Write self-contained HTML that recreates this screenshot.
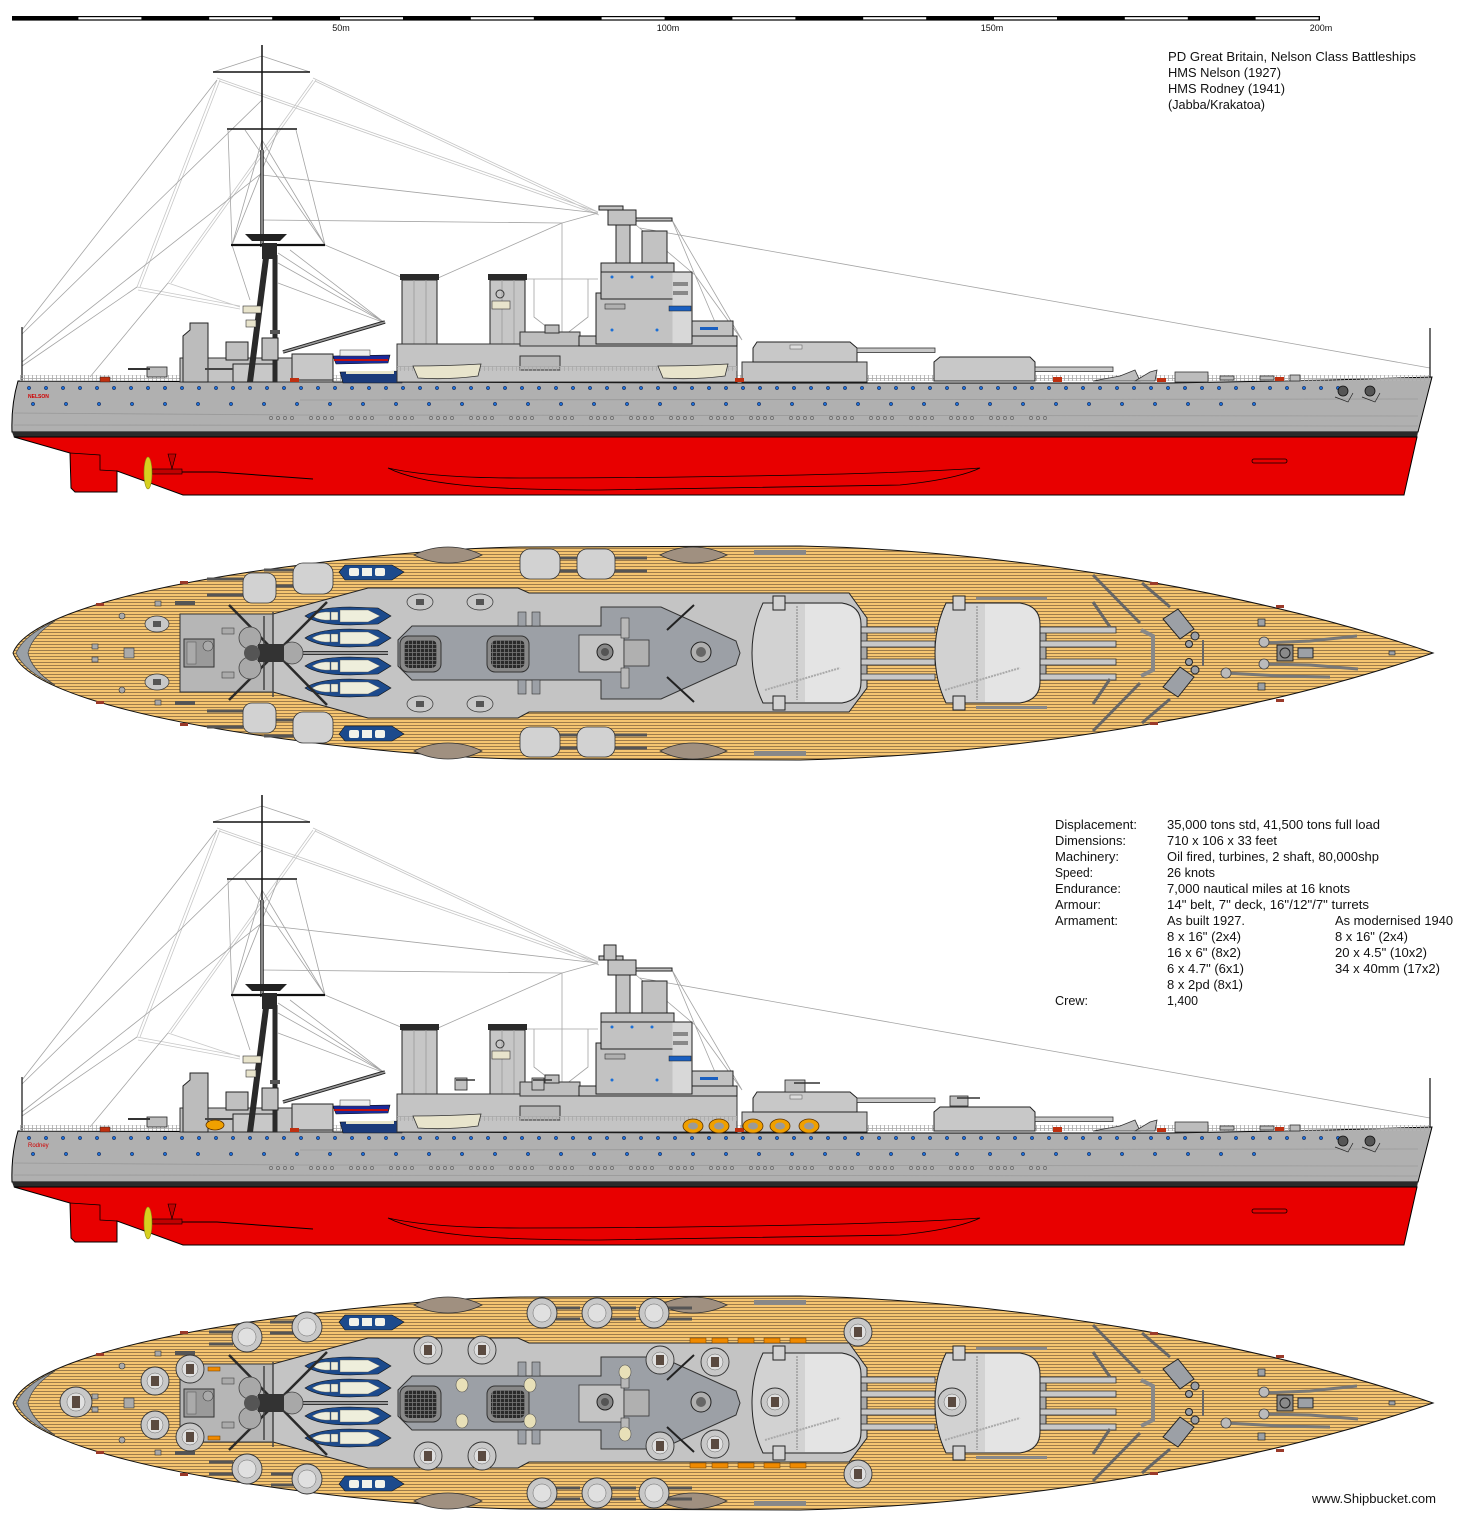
<!DOCTYPE html>
<html><head><meta charset="utf-8"><style>
html,body{margin:0;padding:0;background:#fff;}
svg{display:block;}
text{font-family:"Liberation Sans",Arial,sans-serif;fill:#111;}
</style></head><body>
<svg width="1470" height="1525" viewBox="0 0 1470 1525" xmlns="http://www.w3.org/2000/svg">
<defs>
 <pattern id="deck" width="6" height="3" patternUnits="userSpaceOnUse"><rect width="6" height="3" fill="#f5c571"/><rect y="2" width="6" height="1" fill="#9e7c4a"/></pattern>
 <pattern id="rail" width="4" height="6" patternUnits="userSpaceOnUse"><rect width="4" height="0.8" fill="#a9a9a9"/><rect y="2.6" width="4" height="0.7" fill="#b8b8b8"/><rect width="0.8" height="6" fill="#a9a9a9"/></pattern>
 <pattern id="pb1" x="26" y="385" width="17" height="6" patternUnits="userSpaceOnUse"><circle cx="3" cy="3" r="1.7" fill="#1b6fd6" stroke="#113" stroke-width="0.5"/></pattern>
 <pattern id="pb2" x="30" y="401" width="33" height="6" patternUnits="userSpaceOnUse"><circle cx="3" cy="3" r="1.7" fill="#1b6fd6" stroke="#113" stroke-width="0.5"/></pattern>
 <pattern id="pb3" x="268" y="415" width="40" height="6" patternUnits="userSpaceOnUse"><g fill="none" stroke="#666" stroke-width="0.7"><circle cx="3" cy="3" r="1.6"/><circle cx="10" cy="3" r="1.6"/><circle cx="17" cy="3" r="1.6"/><circle cx="24" cy="3" r="1.6"/></g></pattern>
 <pattern id="grid" width="4" height="4" patternUnits="userSpaceOnUse"><rect width="4" height="4" fill="#2a2a2a"/><rect width="4" height="0.8" fill="#777"/><rect width="0.8" height="4" fill="#777"/></pattern>

 <!-- ================= PROFILE (common) ================= -->
 <g id="prof">
  <g stroke="#a4a4a4" stroke-width="0.8" fill="none">
   <path d="M262,56 L213,72 M262,56 L310,72"/>
   <path d="M217,78 L598,212 M219,81 L599,215 M313,78 L598,212 M315,81 L599,215" stroke="#c4c4c4"/>
   <path d="M217,80 L137,287 M220,80 L140,287 M313,80 L168,283 M316,80 L171,283" stroke="#c8c8c8"/>
   <path d="M137,287 L240,306 M138,290 L240,309 M168,283 L240,307" stroke="#c8c8c8"/>
   <path d="M22,330 L217,80 M22,334 L262,100 M22,362 L262,173 M22,366 L137,287 M90,377 L168,283"/>
   <path d="M228,130 L232,245 M245,130 L325,245 M278,130 L232,245 M296,130 L325,245 M262,140 L232,245 M262,140 L325,245"/>
   <path d="M262,175 L598,213 M262,220 L562,223 M325,245 L403,278 M232,245 L250,300"/>
   <path d="M438,278 L562,223 M562,223 L562,338 M562,223 L598,213"/>
   <path d="M524,279 L598,279 M534,279 L534,317 L561,338 L588,317 L588,279"/>
   <path d="M278,253 L385,323 M278,263 L385,323 M278,283 L385,323 M290,250 L385,323"/>
   <path d="M640,228 L1430,368"/>
   <path d="M672,220 L742,340 M672,220 L695,275 L742,340 M695,275 L715,322 M636,225 L695,275"/>
  </g>
  <path d="M22,327 V381 M1430,328 V378" stroke="#111" stroke-width="1.2"/>
  <path d="M18,381 L700,383 L1170,383 L1330,380 L1432,377 L1418,432 L12,432 Q11,405 18,381Z" fill="#b0b0b0" stroke="#000" stroke-width="1"/>
  <path d="M14,413 L300,415 M14,425 L1418,426 M300,400 L1418,399 M300,415 L1418,416" stroke="#999" stroke-width="0.8"/>
  <path d="M12,432 L1418,432 L1417,437.5 L14,437.5Z" fill="#2a2a2a"/>
  <path d="M14,437 L1417,437 L1404,495 L183,495 L117,471 L117,492 L75,492 L71,488 L70,453 Z" fill="#e80000" stroke="#000" stroke-width="1"/>
  <path d="M70,453 L100,455 L100,470 L117,471" fill="none" stroke="#000" stroke-width="0.8"/>
  <path d="M388,468 C420,484 480,490 600,490 L900,485 C950,480 972,472 980,468 C900,474 700,478 520,478 C450,478 410,473 388,468Z" fill="none" stroke="#000" stroke-width="0.8"/>
  <rect x="1252" y="459" width="35" height="4" rx="2" fill="none" stroke="#000" stroke-width="0.8"/>
  <path d="M150,472 L217,472 M217,472 L313,479" stroke="#000" stroke-width="1"/>
  <rect x="152" y="469" width="30" height="5" fill="#c00000" stroke="#000" stroke-width="0.6"/>
  <path d="M168,454 L176,454 L172,469Z" fill="#c00000" stroke="#000" stroke-width="0.6"/>
  <ellipse cx="148" cy="473" rx="4" ry="16" fill="#d8d020" stroke="#8a8a10" stroke-width="0.6"/>
  <rect x="26" y="385" width="1320" height="6" fill="url(#pb1)"/>
  <rect x="30" y="401" width="1240" height="6" fill="url(#pb2)"/>
  <rect x="268" y="415" width="780" height="6" fill="url(#pb3)"/>
  <g fill="#555" stroke="#111" stroke-width="0.8"><circle cx="1343" cy="391" r="5"/><circle cx="1370" cy="391" r="5"/></g>
  <g fill="none" stroke="#222" stroke-width="0.7"><path d="M1335,397 L1348,402 L1353,393 M1362,397 L1375,402 L1380,393"/></g>
  <rect x="20" y="375" width="1410" height="6" fill="url(#rail)"/>
  <rect x="100" y="377" width="10" height="5" fill="#c03010" stroke="#222" stroke-width="0.5"/>
  <rect x="147" y="367" width="20" height="10" fill="#bdbdbd" stroke="#222" stroke-width="0.8"/>
  <path d="M128,369 L150,369" stroke="#333" stroke-width="2"/>
  <rect x="180" y="358" width="153" height="24" fill="#c4c4c4" stroke="#333"/>
  <path d="M183,382 L183,336 L190,330 L190,323 L208,323 L208,382Z" fill="#bcbcbc" stroke="#222"/>
  <rect x="226" y="342" width="22" height="18" fill="#c0c0c0" stroke="#222"/>
  <rect x="233" y="364" width="44" height="18" fill="#c8c8c8" stroke="#222"/>
  <path d="M205,369 L233,369" stroke="#444" stroke-width="2"/>
  <rect x="292" y="354" width="41" height="26" fill="#c8c8c8" stroke="#222"/>
  <path d="M262,45 V150" stroke="#111" stroke-width="1.5"/>
  <path d="M262,150 V247" stroke="#222" stroke-width="3.5"/>
  <path d="M262,150 V247" stroke="#aaa" stroke-width="1.5"/>
  <path d="M213,72 H310 M227,129 H297" stroke="#111" stroke-width="1.6"/>
  <path d="M231,245 H325" stroke="#111" stroke-width="2.2"/>
  <path d="M245,234 L287,234 L280,241 L252,241Z" fill="#222"/>
  <rect x="262" y="243" width="15" height="16" fill="#2a2a2a"/>
  <path d="M266,258 L250,382" stroke="#2a2a2a" stroke-width="6"/>
  <path d="M275,255 V382" stroke="#2a2a2a" stroke-width="5"/>
  <rect x="270" y="330" width="10" height="4" fill="#555"/>
  <path d="M283,352 L385,322" stroke="#222" stroke-width="3.5"/>
  <path d="M283,352 L385,322" stroke="#999" stroke-width="1.6"/>
  <rect x="243" y="306" width="18" height="7" fill="#e8e4cc" stroke="#333" stroke-width="0.6"/>
  <rect x="246" y="320" width="10" height="7" fill="#e8e4cc" stroke="#333" stroke-width="0.6"/>
  <rect x="262" y="338" width="16" height="22" fill="#c0c0c0" stroke="#222"/>
  <path d="M333,356 L390,355 L388,363 L336,364Z" fill="#1a2a9a" stroke="#111" stroke-width="0.6"/>
  <rect x="334" y="359" width="54" height="2" fill="#c01010"/>
  <rect x="340" y="350" width="30" height="6" fill="#eee" stroke="#333" stroke-width="0.5"/>
  <path d="M340,372 L405,371 L402,383 L343,383Z" fill="#1a3a7a" stroke="#111" stroke-width="0.6"/>
  <rect x="346" y="371" width="48" height="3" fill="#e8e4cc"/>
  <g stroke="#222" stroke-width="1">
   <rect x="402" y="280" width="35" height="66" fill="#c6c6c6"/>
   <rect x="490" y="280" width="35" height="66" fill="#c6c6c6"/>
  </g>
  <path d="M414,280 V346 M426,280 V346 M502,280 V346 M514,280 V346" stroke="#999" stroke-width="0.8"/>
  <rect x="400" y="274" width="39" height="6" fill="#2a2a2a"/>
  <rect x="488" y="274" width="39" height="6" fill="#2a2a2a"/>
  <rect x="492" y="301" width="18" height="8" fill="#e8e4cc" stroke="#333" stroke-width="0.6"/>
  <circle cx="500" cy="294" r="4" fill="none" stroke="#333"/>
  <rect x="397" y="344" width="340" height="38" fill="#c4c4c4" stroke="#333"/>
  <rect x="520" y="332" width="60" height="14" fill="#bebebe" stroke="#333"/>
  <rect x="545" y="325" width="14" height="8" fill="#bebebe" stroke="#333"/>
  <rect x="520" y="356" width="40" height="14" fill="#b8b8b8" stroke="#333"/>
  <rect x="397" y="366" width="340" height="5" fill="url(#rail)"/>
  <path d="M413,366 Q447,366 481,364 L478,376 Q447,380 418,378Z" fill="#e8e4cc" stroke="#333" stroke-width="0.8"/>
  <g fill="#c2c2c2" stroke="#222" stroke-width="1">
   <rect x="579" y="336" width="158" height="10"/>
   <rect x="692" y="321" width="41" height="15"/>
   <rect x="596" y="293" width="96" height="51"/>
   <rect x="601" y="272" width="91" height="27"/>
   <rect x="601" y="263" width="73" height="9"/>
   <rect x="616" y="225" width="14" height="38"/>
   <rect x="642" y="231" width="25" height="32"/>
   <rect x="608" y="210" width="28" height="15"/>
   <rect x="599" y="206" width="24" height="4"/>
   <rect x="636" y="218" width="36" height="3"/>
  </g>
  <rect x="672.5" y="272.5" width="19" height="71" fill="#d8d8d8"/>
  <rect x="669" y="306" width="22" height="5" fill="#1a5fc0" stroke="#222" stroke-width="0.5"/>
  <rect x="700" y="327" width="18" height="3" fill="#1a5fc0"/>
  <rect x="673" y="282" width="15" height="4" fill="#888"/>
  <rect x="673" y="291" width="15" height="4" fill="#888"/>
  <rect x="605" y="304" width="20" height="5" fill="#b0b0b0" stroke="#333" stroke-width="0.6"/>
  <g fill="#1b6fd6"><circle cx="612" cy="277" r="1.5"/><circle cx="632" cy="277" r="1.5"/><circle cx="652" cy="277" r="1.5"/><circle cx="612" cy="330" r="1.5"/><circle cx="657" cy="330" r="1.5"/></g>
  <rect x="742" y="362" width="125" height="20" fill="#c4c4c4" stroke="#333"/>
  <path d="M753,362 L753,348 L757,342 L850,342 L857,348 L857,362Z" fill="#c8c8c8" stroke="#222"/>
  <rect x="857" y="348" width="78" height="4.5" fill="#c8c8c8" stroke="#333" stroke-width="0.8"/>
  <rect x="790" y="345" width="12" height="4" fill="#ddd" stroke="#555" stroke-width="0.5"/>
  <path d="M934,381 L934,362 L940,357 L1030,357 L1035,362 L1035,381Z" fill="#c8c8c8" stroke="#222"/>
  <rect x="1035" y="367" width="78" height="4.5" fill="#c8c8c8" stroke="#333" stroke-width="0.8"/>
  <g fill="#bcbcbc" stroke="#333" stroke-width="0.8">
   <path d="M1093,381 L1120,376 L1135,370 L1140,381Z"/>
   <path d="M1135,381 L1150,372 L1157,370 L1155,381Z"/>
   <rect x="1175" y="372" width="33" height="10"/>
   <rect x="1220" y="376" width="14" height="4"/>
   <rect x="1260" y="376" width="14" height="4"/>
   <rect x="1290" y="375" width="10" height="6"/>
  </g>
  <g fill="#c03010"><rect x="1053" y="377" width="9" height="5"/><rect x="1157" y="378" width="9" height="4"/><rect x="1275" y="377" width="9" height="4"/><rect x="290" y="378" width="9" height="4"/><rect x="735" y="378" width="9" height="4"/></g>
 </g>

 <!-- ================= PLAN (common) ================= -->
 <g id="plan">
  <path d="M13,653 C25,620 120,592 250,572 C350,557 450,548 520,547 L800,546 C1000,550 1250,590 1433,653 C1250,716 1000,756 800,760 L520,759 C450,758 350,749 250,734 C120,714 25,686 13,653Z" fill="url(#deck)" stroke="#111" stroke-width="1"/>
  <path d="M16,653 C22,640 35,630 55,621 C38,632 30,643 28,653 C30,663 38,674 55,685 C35,676 22,666 16,653Z" fill="#9aa0a6" stroke="#444" stroke-width="0.7"/>
  <g fill="#a09080" stroke="#333" stroke-width="0.8">
   <path d="M414,555 Q430,547 448,547 Q466,547 482,555 Q466,563 448,563 Q430,563 414,555Z"/>
   <path d="M660,555 Q676,547 693,547 Q710,547 727,555 Q710,563 693,563 Q676,563 660,555Z"/>
   <path d="M414,751 Q430,743 448,743 Q466,743 482,751 Q466,759 448,759 Q430,759 414,751Z"/>
   <path d="M660,751 Q676,743 693,743 Q710,743 727,751 Q710,759 693,759 Q676,759 660,751Z"/>
  </g>
  <g fill="#888"><rect x="754" y="550" width="52" height="5"/><rect x="754" y="751" width="52" height="5"/><rect x="976" y="597" width="71" height="3"/><rect x="976" y="706" width="71" height="3"/></g>
  <g fill="#1c4a8c" stroke="#111" stroke-width="0.6">
   <path d="M339,572 L345,565 L392,565 L404,572 L392,580 L345,580Z"/>
   <path d="M339,734 L345,726 L392,726 L404,734 L392,741 L345,741Z"/>
  </g>
  <g fill="#f2f2ea"><rect x="349" y="568" width="10" height="8" rx="2"/><rect x="362" y="568" width="10" height="8"/><rect x="375" y="568" width="10" height="8" rx="2"/><rect x="349" y="730" width="10" height="8" rx="2"/><rect x="362" y="730" width="10" height="8"/><rect x="375" y="730" width="10" height="8" rx="2"/></g>
  <path d="M180,614 L273,614 L368,588 L518,588 L529,593 L849,593 L867,618 L867,688 L849,712 L529,712 L518,718 L368,718 L273,692 L180,692Z" fill="#c4c4c4" stroke="#222" stroke-width="1"/>
  <rect x="180" y="614" width="93" height="78" fill="#b6b6b6" stroke="#333"/>
  <rect x="184" y="639" width="30" height="28" fill="#9a9a9a" stroke="#333"/>
  <rect x="187" y="642" width="9" height="22" fill="#aaa" stroke="#555" stroke-width="0.5"/>
  <circle cx="208" cy="646" r="5" fill="#aaa" stroke="#444" stroke-width="0.6"/>
  <rect x="222" y="628" width="12" height="6" fill="#aaa" stroke="#444" stroke-width="0.6"/>
  <rect x="222" y="672" width="12" height="6" fill="#aaa" stroke="#444" stroke-width="0.6"/>
  <path d="M398,640 L412,626 L601,626 L601,607 L661,607 L736,641 L740,653 L736,665 L661,699 L601,699 L601,680 L412,680 L398,666Z" fill="#9ca0a6" stroke="#333" stroke-width="1"/>
  <rect x="518" y="612" width="8" height="14" fill="#9ca0a6" stroke="#333" stroke-width="0.6"/>
  <rect x="532" y="612" width="8" height="14" fill="#9ca0a6" stroke="#333" stroke-width="0.6"/>
  <rect x="518" y="680" width="8" height="14" fill="#9ca0a6" stroke="#333" stroke-width="0.6"/>
  <rect x="532" y="680" width="8" height="14" fill="#9ca0a6" stroke="#333" stroke-width="0.6"/>
  <rect x="579" y="635" width="45" height="37" fill="#c4c4c4" stroke="#333" stroke-width="0.8"/>
  <rect x="624" y="640" width="25" height="26" fill="#b0b0b0" stroke="#333" stroke-width="0.8"/>
  <circle cx="605" cy="652" r="8" fill="#888" stroke="#222"/>
  <circle cx="605" cy="652" r="4" fill="#555"/>
  <circle cx="701" cy="652" r="10" fill="#b0b0b0" stroke="#222"/>
  <circle cx="701" cy="652" r="5" fill="#666"/>
  <rect x="621" y="618" width="8" height="20" fill="#b8b8b8" stroke="#333" stroke-width="0.6"/>
  <rect x="621" y="668" width="8" height="20" fill="#b8b8b8" stroke="#333" stroke-width="0.6"/>
  <path d="M667,630 L694,605 M667,677 L694,702" stroke="#222" stroke-width="2"/>
  <rect x="400" y="636" width="41" height="36" rx="8" fill="#888" stroke="#333"/>
  <rect x="404" y="640" width="33" height="28" rx="6" fill="url(#grid)"/>
  <rect x="487" y="636" width="42" height="36" rx="8" fill="#888" stroke="#333"/>
  <rect x="491" y="640" width="34" height="28" rx="6" fill="url(#grid)"/>
  <g fill="#1c4a8c" stroke="#111" stroke-width="0.6">
   <path d="M305,616 Q318,607 350,607 L378,608 L391,616 L378,624 L350,625 Q318,625 305,616Z"/>
   <path d="M305,638 Q318,629 350,629 L378,630 L391,638 L378,646 L350,647 Q318,647 305,638Z"/>
   <path d="M305,666 Q318,657 350,657 L378,658 L391,666 L378,674 L350,675 Q318,675 305,666Z"/>
   <path d="M305,688 Q318,679 350,679 L378,680 L391,688 L378,696 L350,697 Q318,697 305,688Z"/>
  </g>
  <g fill="#eeeedc" stroke="#555" stroke-width="0.4">
   <path d="M312,616 Q320,611 330,612 L330,620 Q320,621 312,616Z"/><rect x="331" y="612" width="7" height="8"/><path d="M340,610 L368,610 L380,616 L368,622 L340,622Z"/>
   <path d="M312,638 Q320,633 330,634 L330,642 Q320,643 312,638Z"/><rect x="331" y="634" width="7" height="8"/><path d="M340,632 L368,632 L380,638 L368,644 L340,644Z"/>
   <path d="M312,666 Q320,661 330,662 L330,670 Q320,671 312,666Z"/><rect x="331" y="662" width="7" height="8"/><path d="M340,660 L368,660 L380,666 L368,672 L340,672Z"/>
   <path d="M312,688 Q320,683 330,684 L330,692 Q320,693 312,688Z"/><rect x="331" y="684" width="7" height="8"/><path d="M340,682 L368,682 L380,688 L368,694 L340,694Z"/>
  </g>
  <path d="M271,653 L388,653" stroke="#333" stroke-width="4"/>
  <path d="M271,653 L388,653" stroke="#999" stroke-width="2"/>
  <path d="M229,605 L327,705 M229,700 L327,602" stroke="#2a2a2a" stroke-width="2.5"/>
  <path d="M264,616 V690 M273,612 V697" stroke="#444" stroke-width="1.5"/>
  <circle cx="250" cy="638" r="11" fill="#a8a8a8" stroke="#444" stroke-width="0.8"/>
  <circle cx="250" cy="668" r="11" fill="#a8a8a8" stroke="#444" stroke-width="0.8"/>
  <circle cx="292" cy="653" r="11" fill="#a8a8a8" stroke="#444" stroke-width="0.8"/>
  <rect x="258" y="644" width="26" height="18" fill="#333"/>
  <circle cx="252" cy="653" r="8" fill="#555"/>
  <g fill="#aaa" stroke="#333" stroke-width="0.6"><rect x="124" y="648" width="10" height="10"/><rect x="92" y="644" width="6" height="5"/><rect x="92" y="657" width="6" height="5"/><circle cx="122" cy="616" r="3"/><circle cx="122" cy="690" r="3"/><rect x="155" y="601" width="6" height="5"/><rect x="155" y="700" width="6" height="5"/></g>
  <g fill="#555"><rect x="175" y="601" width="20" height="4"/><rect x="175" y="701" width="20" height="4"/></g>
  <g>
   <path d="M851,627 L867,627 L867,680 L851,680Z" fill="#aaa" stroke="#333"/>
   <g fill="#c8c8c8" stroke="#333" stroke-width="0.8">
    <rect x="855" y="627" width="80" height="6"/><rect x="855" y="641" width="80" height="6"/><rect x="855" y="659" width="80" height="6"/><rect x="855" y="674" width="80" height="6"/>
   </g>
   <path d="M763,603 L842,603 Q861,606 861,624 L861,682 Q861,700 842,703 L763,703 Q752,680 752,653 Q752,626 763,603Z" fill="#d2d2d2" stroke="#222"/>
   <path d="M805,604 L842,604 Q860,607 860,624 L860,682 Q860,699 842,702 L805,702Z" fill="#e4e4e4"/>
   <path d="M765,690 L840,668" stroke="#aaa" stroke-width="2" stroke-dasharray="2 1"/>
   <path d="M797,606 V700" stroke="#aaa" stroke-width="2" stroke-dasharray="2 1"/>
   <rect x="773" y="596" width="12" height="14" fill="#d2d2d2" stroke="#222"/>
   <rect x="773" y="696" width="12" height="14" fill="#d2d2d2" stroke="#222"/>
  </g>
  <g>
   <path d="M1030,627 L1046,627 L1046,680 L1030,680Z" fill="#aaa" stroke="#333"/>
   <g fill="#c8c8c8" stroke="#333" stroke-width="0.8">
    <rect x="1034" y="627" width="82" height="6"/><rect x="1034" y="641" width="82" height="6"/><rect x="1034" y="659" width="82" height="6"/><rect x="1034" y="674" width="82" height="6"/>
   </g>
   <path d="M946,603 L1020,603 Q1040,606 1040,624 L1040,682 Q1040,700 1020,703 L946,703 Q935,680 935,653 Q935,626 946,603Z" fill="#d2d2d2" stroke="#222"/>
   <path d="M985,604 L1020,604 Q1039,607 1039,624 L1039,682 Q1039,699 1020,702 L985,702Z" fill="#e4e4e4"/>
   <path d="M945,690 L1020,668" stroke="#aaa" stroke-width="2" stroke-dasharray="2 1"/>
   <path d="M977,606 V700" stroke="#aaa" stroke-width="2" stroke-dasharray="2 1"/>
   <rect x="953" y="596" width="12" height="14" fill="#d2d2d2" stroke="#222"/>
   <rect x="953" y="696" width="12" height="14" fill="#d2d2d2" stroke="#222"/>
  </g>
  <g stroke="#666" stroke-width="3" fill="none">
   <path d="M1093,575 L1140,623 M1093,731 L1140,683 M1093,602 L1110,627 M1093,704 L1110,679 M1142,583 L1170,607 M1142,723 L1170,699"/>
  </g>
  <path d="M1141,630 L1153,636 L1153,670 L1141,676" stroke="#888" stroke-width="4" fill="none"/>
  <g fill="#9ca0a6" stroke="#222" stroke-width="1">
   <path d="M1163,619 L1178,609 L1194,629 L1180,639Z"/>
   <path d="M1163,687 L1178,697 L1194,677 L1180,667Z"/>
   <circle cx="1195" cy="636" r="4"/><circle cx="1189" cy="644" r="3.5"/><circle cx="1195" cy="670" r="4"/><circle cx="1189" cy="662" r="3.5"/>
  </g>
  <path d="M1203,640 L1203,666" stroke="#666" stroke-width="2"/>
  <g stroke="#777" stroke-width="3" fill="none">
   <path d="M1263,643 L1310,641 L1357,636 M1263,664 L1310,665 L1358,669 M1226,673 L1280,676 L1330,677"/>
  </g>
  <g fill="#bbb" stroke="#444" stroke-width="0.8"><circle cx="1264" cy="642" r="5"/><circle cx="1264" cy="664" r="5"/><circle cx="1226" cy="673" r="5"/></g>
  <rect x="1277" y="645" width="16" height="16" fill="#8a8a8a" stroke="#222"/>
  <circle cx="1285" cy="653" r="5" fill="none" stroke="#222"/>
  <rect x="1298" y="648" width="15" height="10" fill="#9ca0a6" stroke="#222"/>
  <rect x="1258" y="619" width="7" height="7" fill="#9ca0a6" stroke="#222" stroke-width="0.7"/>
  <rect x="1258" y="683" width="7" height="7" fill="#9ca0a6" stroke="#222" stroke-width="0.7"/>
  <rect x="1389" y="651" width="6" height="4" fill="#9ca0a6" stroke="#222" stroke-width="0.6"/>
  <g fill="#9a3a2a"><rect x="1150" y="582" width="8" height="3"/><rect x="1276" y="605" width="8" height="3"/><rect x="1150" y="722" width="8" height="3"/><rect x="1276" y="699" width="8" height="3"/><rect x="96" y="603" width="8" height="3"/><rect x="96" y="701" width="8" height="3"/><rect x="180" y="581" width="8" height="3"/><rect x="180" y="723" width="8" height="3"/></g>
 </g>
</defs>

<!-- scale bar -->
<rect x="12" y="16" width="1308" height="4.6" fill="#000"/>
<g fill="#fff">
 <rect x="78.4" y="17.2" width="63" height="2.2"/><rect x="209.2" y="17.2" width="63" height="2.2"/><rect x="340" y="17.2" width="63" height="2.2"/><rect x="470.8" y="17.2" width="63" height="2.2"/><rect x="601.6" y="17.2" width="63" height="2.2"/><rect x="732.4" y="17.2" width="63" height="2.2"/><rect x="863.2" y="17.2" width="63" height="2.2"/><rect x="994" y="17.2" width="63" height="2.2"/><rect x="1124.8" y="17.2" width="63" height="2.2"/><rect x="1255.6" y="17.2" width="63" height="2.2"/>
</g>
<g font-size="9" text-anchor="middle"><text x="341" y="31">50m</text><text x="668" y="31">100m</text><text x="992" y="31">150m</text><text x="1321" y="31">200m</text></g>

<!-- title -->
<g font-size="12.5" lengthAdjust="spacingAndGlyphs">
 <text x="1168" y="61" textLength="248" lengthAdjust="spacingAndGlyphs">PD Great Britain, Nelson Class Battleships</text>
 <text x="1168" y="77" textLength="113" lengthAdjust="spacingAndGlyphs">HMS Nelson (1927)</text>
 <text x="1168" y="93" textLength="117" lengthAdjust="spacingAndGlyphs">HMS Rodney (1941)</text>
 <text x="1168" y="109" textLength="97" lengthAdjust="spacingAndGlyphs">(Jabba/Krakatoa)</text>
</g>

<!-- profile 1 -->
<use href="#prof"/>
<text x="28" y="398" font-size="5" style="fill:#d00000" font-weight="bold">NELSON</text>
<path d="M658,366 Q693,366 728,364 L725,376 Q693,380 663,378Z" fill="#e8e4cc" stroke="#333" stroke-width="0.8"/>

<!-- plan 1 -->
<use href="#plan"/>
<g fill="#d2d2d2" stroke="#333" stroke-width="0.8">
 <path d="M207,579 H243 M207,595 H243 M264,570 H293 M264,586 H293 M560,558 H580 M560,571 H580 M611,558 H647 M611,571 H647" stroke="#555" stroke-width="3" fill="none"/>
 <path d="M207,727 H243 M207,711 H243 M264,736 H293 M264,720 H293 M560,748 H580 M560,735 H580 M611,748 H647 M611,735 H647" stroke="#555" stroke-width="3" fill="none"/>
 <rect x="243" y="573" width="33" height="30" rx="9"/><rect x="293" y="563" width="40" height="31" rx="10"/>
 <rect x="520" y="549" width="40" height="30" rx="10"/><rect x="577" y="549" width="38" height="30" rx="10"/>
 <rect x="243" y="703" width="33" height="30" rx="9"/><rect x="293" y="712" width="40" height="31" rx="10"/>
 <rect x="520" y="727" width="40" height="30" rx="10"/><rect x="577" y="727" width="38" height="30" rx="10"/>
</g>
<g fill="#c8c8c8" stroke="#333" stroke-width="0.7">
 <ellipse cx="420" cy="602" rx="13" ry="8"/><ellipse cx="480" cy="602" rx="13" ry="8"/><ellipse cx="420" cy="704" rx="13" ry="8"/><ellipse cx="480" cy="704" rx="13" ry="8"/>
 <ellipse cx="157" cy="624" rx="12" ry="8"/><ellipse cx="157" cy="682" rx="12" ry="8"/>
</g>
<g fill="#555"><rect x="416" y="599" width="8" height="6"/><rect x="476" y="599" width="8" height="6"/><rect x="416" y="701" width="8" height="6"/><rect x="476" y="701" width="8" height="6"/><rect x="153" y="621" width="8" height="6"/><rect x="153" y="679" width="8" height="6"/></g>

<!-- profile 2 -->
<use href="#prof" y="750"/>
<text x="28" y="1147" font-size="6" style="fill:#d00000">Rodney</text>
<rect x="604" y="945" width="12" height="15" fill="#c2c2c2" stroke="#222"/>
<g fill="#f0a000" stroke="#5a3000" stroke-width="0.8">
 <ellipse cx="215" cy="1125" rx="9" ry="5"/>
 <ellipse cx="693" cy="1126" rx="10" ry="7"/><ellipse cx="719" cy="1126" rx="10" ry="7"/><ellipse cx="753" cy="1126" rx="10" ry="7"/><ellipse cx="780" cy="1126" rx="10" ry="7"/><ellipse cx="809" cy="1126" rx="10" ry="7"/>
</g>
<g fill="#9a9a9a"><ellipse cx="693" cy="1126" rx="5" ry="3.5"/><ellipse cx="719" cy="1126" rx="5" ry="3.5"/><ellipse cx="753" cy="1126" rx="5" ry="3.5"/><ellipse cx="780" cy="1126" rx="5" ry="3.5"/><ellipse cx="809" cy="1126" rx="5" ry="3.5"/></g>
<g fill="#c0c0c0" stroke="#222" stroke-width="0.8">
 <rect x="455" y="1078" width="12" height="12"/><rect x="532" y="1078" width="12" height="12"/>
 <rect x="785" y="1080" width="20" height="12"/><rect x="950" y="1096" width="18" height="10"/>
</g>
<path d="M794,1083 H820 M957,1098 H980 M456,1080 H475 M533,1080 H552" stroke="#333" stroke-width="1.5"/>

<!-- plan 2 -->
<use href="#plan" y="750"/>
<g fill="#f08a00" stroke="#6a3a00" stroke-width="0.5">
 <rect x="690" y="1338" width="16" height="5"/><rect x="712" y="1338" width="16" height="5"/><rect x="738" y="1338" width="16" height="5"/><rect x="764" y="1338" width="16" height="5"/><rect x="790" y="1338" width="16" height="5"/>
 <rect x="690" y="1463" width="16" height="5"/><rect x="712" y="1463" width="16" height="5"/><rect x="738" y="1463" width="16" height="5"/><rect x="764" y="1463" width="16" height="5"/><rect x="790" y="1463" width="16" height="5"/>
 <rect x="208" y="1367" width="12" height="4"/><rect x="208" y="1436" width="12" height="4"/>
</g>
<g stroke="#555" stroke-width="3" fill="none">
 <path d="M209,1332 H233 M209,1344 H233 M270,1322 H293 M270,1333 H293 M271,1474 H293 M271,1485 H293 M209,1462 H233 M209,1474 H233"/>
 <path d="M556,1308 H580 M556,1319 H580 M611,1308 H636 M611,1319 H636 M668,1308 H692 M668,1319 H692 M556,1488 H580 M556,1499 H580 M611,1488 H636 M611,1499 H636 M668,1488 H692 M668,1499 H692"/>
</g>
<g fill="#c8c8c8" stroke="#333" stroke-width="0.9">
 <ellipse cx="76" cy="1402" rx="16" ry="15"/>
 <ellipse cx="155" cy="1381" rx="14" ry="14"/><ellipse cx="155" cy="1425" rx="14" ry="14"/>
 <ellipse cx="190" cy="1369" rx="14" ry="14"/><ellipse cx="190" cy="1437" rx="14" ry="14"/>
 <ellipse cx="247" cy="1337" rx="15" ry="15"/><ellipse cx="247" cy="1469" rx="15" ry="15"/>
 <ellipse cx="307" cy="1327" rx="15" ry="15"/><ellipse cx="307" cy="1479" rx="15" ry="15"/>
 <ellipse cx="428" cy="1350" rx="14" ry="14"/><ellipse cx="428" cy="1456" rx="14" ry="14"/>
 <ellipse cx="482" cy="1350" rx="14" ry="14"/><ellipse cx="482" cy="1456" rx="14" ry="14"/>
 <ellipse cx="542" cy="1313" rx="15" ry="15"/><ellipse cx="542" cy="1493" rx="15" ry="15"/>
 <ellipse cx="597" cy="1313" rx="15" ry="15"/><ellipse cx="597" cy="1493" rx="15" ry="15"/>
 <ellipse cx="654" cy="1313" rx="15" ry="15"/><ellipse cx="654" cy="1493" rx="15" ry="15"/>
 <ellipse cx="660" cy="1360" rx="14" ry="14"/><ellipse cx="660" cy="1446" rx="14" ry="14"/>
 <ellipse cx="715" cy="1362" rx="14" ry="14"/><ellipse cx="715" cy="1444" rx="14" ry="14"/>
 <ellipse cx="858" cy="1332" rx="14" ry="14"/><ellipse cx="858" cy="1474" rx="14" ry="14"/>
 <ellipse cx="775" cy="1402" rx="14" ry="14"/><ellipse cx="952" cy="1402" rx="14" ry="14"/>
</g>
<g fill="#e0e0e0" stroke="#666" stroke-width="0.5">
 <circle cx="76" cy="1402" r="9"/><circle cx="155" cy="1381" r="8"/><circle cx="155" cy="1425" r="8"/><circle cx="190" cy="1369" r="8"/><circle cx="190" cy="1437" r="8"/><circle cx="247" cy="1337" r="9"/><circle cx="247" cy="1469" r="9"/><circle cx="307" cy="1327" r="9"/><circle cx="307" cy="1479" r="9"/><circle cx="428" cy="1350" r="8"/><circle cx="428" cy="1456" r="8"/><circle cx="482" cy="1350" r="8"/><circle cx="482" cy="1456" r="8"/><circle cx="542" cy="1313" r="9"/><circle cx="542" cy="1493" r="9"/><circle cx="597" cy="1313" r="9"/><circle cx="597" cy="1493" r="9"/><circle cx="654" cy="1313" r="9"/><circle cx="654" cy="1493" r="9"/><circle cx="660" cy="1360" r="8"/><circle cx="660" cy="1446" r="8"/><circle cx="715" cy="1362" r="8"/><circle cx="715" cy="1444" r="8"/><circle cx="858" cy="1332" r="8"/><circle cx="858" cy="1474" r="8"/><circle cx="775" cy="1402" r="8"/><circle cx="952" cy="1402" r="8"/>
</g>
<g fill="#5a4a40"><rect x="72" y="1396" width="8" height="12"/><rect x="151" y="1376" width="8" height="10"/><rect x="151" y="1420" width="8" height="10"/><rect x="186" y="1364" width="8" height="10"/><rect x="186" y="1432" width="8" height="10"/><rect x="424" y="1345" width="8" height="10"/><rect x="424" y="1451" width="8" height="10"/><rect x="478" y="1345" width="8" height="10"/><rect x="478" y="1451" width="8" height="10"/><rect x="656" y="1355" width="8" height="10"/><rect x="656" y="1441" width="8" height="10"/><rect x="711" y="1357" width="8" height="10"/><rect x="711" y="1439" width="8" height="10"/><rect x="854" y="1327" width="8" height="10"/><rect x="854" y="1469" width="8" height="10"/><rect x="771" y="1397" width="8" height="10"/><rect x="948" y="1397" width="8" height="10"/></g>
<g fill="#e8e0b8" stroke="#555" stroke-width="0.6"><ellipse cx="462" cy="1385" rx="6" ry="7"/><ellipse cx="462" cy="1421" rx="6" ry="7"/><ellipse cx="530" cy="1385" rx="6" ry="7"/><ellipse cx="530" cy="1421" rx="6" ry="7"/><ellipse cx="625" cy="1372" rx="6" ry="7"/><ellipse cx="625" cy="1434" rx="6" ry="7"/></g>

<!-- specs -->
<g font-size="12.5">
 <text x="1055" y="829" textLength="82" lengthAdjust="spacingAndGlyphs">Displacement:</text><text x="1167" y="829" textLength="213" lengthAdjust="spacingAndGlyphs">35,000 tons std, 41,500 tons full load</text>
 <text x="1055" y="845" textLength="71" lengthAdjust="spacingAndGlyphs">Dimensions:</text><text x="1167" y="845" textLength="110" lengthAdjust="spacingAndGlyphs">710 x 106 x 33 feet</text>
 <text x="1055" y="861" textLength="64" lengthAdjust="spacingAndGlyphs">Machinery:</text><text x="1167" y="861" textLength="212" lengthAdjust="spacingAndGlyphs">Oil fired, turbines, 2 shaft, 80,000shp</text>
 <text x="1055" y="877" textLength="38" lengthAdjust="spacingAndGlyphs">Speed:</text><text x="1167" y="877" textLength="48" lengthAdjust="spacingAndGlyphs">26 knots</text>
 <text x="1055" y="893" textLength="66" lengthAdjust="spacingAndGlyphs">Endurance:</text><text x="1167" y="893" textLength="183" lengthAdjust="spacingAndGlyphs">7,000 nautical miles at 16 knots</text>
 <text x="1055" y="909" textLength="46" lengthAdjust="spacingAndGlyphs">Armour:</text><text x="1167" y="909" textLength="202" lengthAdjust="spacingAndGlyphs">14" belt, 7" deck, 16"/12"/7" turrets</text>
 <text x="1055" y="925" textLength="63" lengthAdjust="spacingAndGlyphs">Armament:</text><text x="1167" y="925" textLength="78" lengthAdjust="spacingAndGlyphs">As built 1927.</text><text x="1335" y="925" textLength="118" lengthAdjust="spacingAndGlyphs">As modernised 1940</text>
 <text x="1167" y="941" textLength="74" lengthAdjust="spacingAndGlyphs">8 x 16" (2x4)</text><text x="1335" y="941" textLength="73" lengthAdjust="spacingAndGlyphs">8 x 16" (2x4)</text>
 <text x="1167" y="957" textLength="74" lengthAdjust="spacingAndGlyphs">16 x 6" (8x2)</text><text x="1335" y="957" textLength="92" lengthAdjust="spacingAndGlyphs">20 x 4.5" (10x2)</text>
 <text x="1167" y="973" textLength="77" lengthAdjust="spacingAndGlyphs">6 x 4.7" (6x1)</text><text x="1335" y="973" textLength="105" lengthAdjust="spacingAndGlyphs">34 x 40mm (17x2)</text>
 <text x="1167" y="989" textLength="76" lengthAdjust="spacingAndGlyphs">8 x 2pd (8x1)</text>
 <text x="1055" y="1005" textLength="33" lengthAdjust="spacingAndGlyphs">Crew:</text><text x="1167" y="1005" textLength="31" lengthAdjust="spacingAndGlyphs">1,400</text>
 <text x="1312" y="1503" textLength="124" lengthAdjust="spacingAndGlyphs">www.Shipbucket.com</text>
</g>
</svg>
</body></html>
